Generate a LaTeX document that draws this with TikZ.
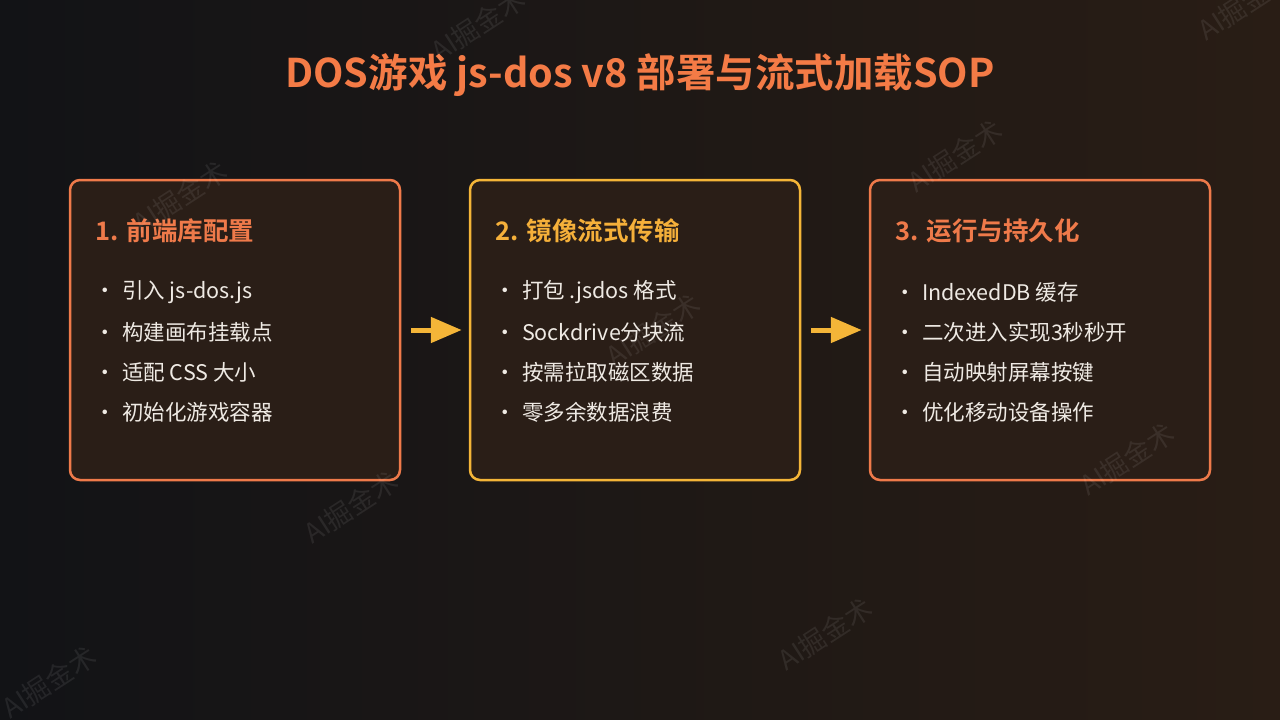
\documentclass[tikz,border=0pt]{standalone}
\usepackage{fontspec}
\usetikzlibrary{arrows.meta,positioning}
\newfontfamily\cjk{Noto Sans CJK SC}[BoldFont={Noto Sans CJK SC Bold}]
\definecolor{bgL}{HTML}{121316}
\definecolor{bgR}{HTML}{291D15}
\definecolor{boxfill}{HTML}{2A1E17}
\definecolor{coral}{HTML}{EF7A4A}
\definecolor{amber}{HTML}{F4B538}
\definecolor{amberT}{HTML}{F5B03A}
\definecolor{titlecol}{HTML}{F47B46}
\definecolor{txt}{HTML}{EFEAE4}
\tikzset{
  stepbox/.style={draw, line width=2.5pt, fill=boxfill, rounded corners=10pt,
    minimum width=330pt, minimum height=300pt, inner sep=0pt},
  boxtitle/.style={anchor=west, font=\cjk\bfseries\fontsize{25.5}{30}\selectfont},
  item/.style={anchor=west, text=txt, font=\cjk\fontsize{21.5}{26}\selectfont},
  flow/.style={amber, line width=5pt, -{Triangle[length=31pt,width=25pt]}},
  wm/.style={text=white, opacity=0.08, rotate=33, font=\cjk\fontsize{27}{30}\selectfont}
}
\begin{document}
\begin{tikzpicture}[x=1pt,y=-1pt]
\useasboundingbox (0,0) rectangle (1280,720);
\shade[left color=bgL, right color=bgR] (0,0) rectangle (1280,720);

\node[text=titlecol, font=\cjk\bfseries\fontsize{39.5}{48}\selectfont] (title) at (640,75) {DOS游戏 js-dos v8 部署与流式加载SOP};

\node[stepbox, draw=coral] (b1) at (235,330) {};
\node[stepbox, draw=amber] (b2) at (635,330) {};
\node[stepbox, draw=coral, minimum width=340pt] (b3) at (1040,330) {};

\draw[flow, shorten <=10pt, shorten >=7pt] (b1.east) -- (b2.west);
\draw[flow, shorten <=10pt, shorten >=7pt] (b2.east) -- (b3.west);

% box 1
\node[boxtitle, text=coral] (t1) at (92,231) {1. 前端库配置};
\foreach \y/\s [count=\i] in {292/引入 js-dos.js, 332/构建画布挂载点, 372/适配 CSS 大小, 412/初始化游戏容器}{
  \node[item] (p1\i) at (91,\y) {·\hspace{6pt}\s};
}
% box 2
\node[boxtitle, text=amberT] (t2) at (492,231) {2. 镜像流式传输};
\foreach \y/\s [count=\i] in {292/打包 .jsdos 格式, 332/Sockdrive分块流, 372/按需拉取磁区数据, 412/零多余数据浪费}{
  \node[item] (p2\i) at (491,\y) {·\hspace{6pt}\s};
}
% box 3
\node[boxtitle, text=coral] (t3) at (892,231) {3. 运行与持久化};
\foreach \y/\s [count=\i] in {292/IndexedDB 缓存, 332/二次进入实现3秒秒开, 372/自动映射屏幕按键, 412/优化移动设备操作}{
  \node[item] (p3\i) at (891,\y) {·\hspace{6pt}\s};
}

% watermarks (drawn on top)
\foreach \x/\y [count=\i] in {478/25, 1245/4, 955/156, 180/197, 653/330, 351/507, 1127/459, 825/634, 49/682}{
  \node[wm] (w\i) at (\x,\y) {AI掘金术};
}
\end{tikzpicture}
\end{document}
